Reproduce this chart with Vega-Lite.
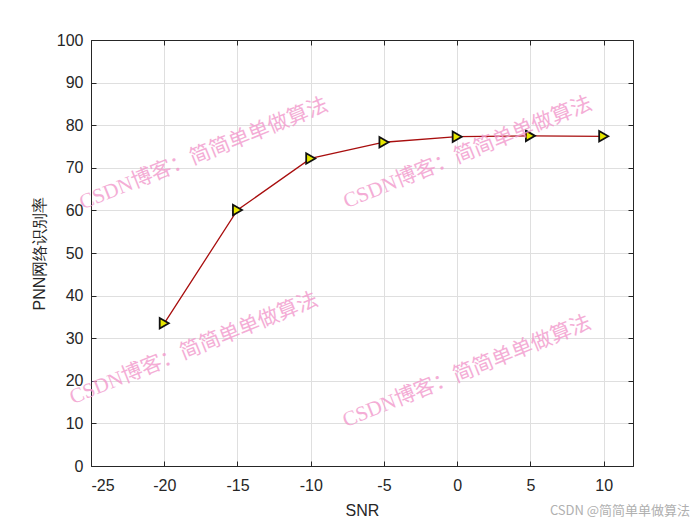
{
  "$schema": "https://vega.github.io/schema/vega-lite/v6.json",
  "autosize": {"type": "none"},
  "width": 542,
  "height": 426,
  "padding": {"left": 91, "top": 40, "right": 67, "bottom": 59},
  "background": "white",
  "config": {
    "view": {"stroke": "#262626", "strokeWidth": 1},
    "font": "Liberation Sans",
    "axis": {
      "domainColor": "#262626",
      "tickColor": "#262626",
      "labelColor": "#262626",
      "titleColor": "#262626",
      "labelFont": "Liberation Sans",
      "titleFont": "Liberation Sans",
      "labelFontSize": 16,
      "titleFontSize": 16,
      "titleFontWeight": "normal",
      "gridColor": "#dfdfdf",
      "tickSize": -5
    }
  },
  "datasets": {
    "pts": [
      {"snr": -20, "rate": 33.5},
      {"snr": -15, "rate": 60.1},
      {"snr": -10, "rate": 72.2},
      {"snr": -5, "rate": 76.0},
      {"snr": 0, "rate": 77.3},
      {"snr": 5, "rate": 77.5},
      {"snr": 10, "rate": 77.4}
    ],
    "wm": [
      {"x": -17.3, "y": 73.2, "t": "CSDN博客：简简单单做算法"},
      {"x": 0.73, "y": 73.5, "t": "CSDN博客：简简单单做算法"},
      {"x": -17.97, "y": 27.5, "t": "CSDN博客：简简单单做算法"},
      {"x": 0.67, "y": 22.1, "t": "CSDN博客：简简单单做算法"}
    ],
    "credit": [{"x": 15.9, "y": -10.6, "t": "CSDN @简简单单做算法"}]
  },
  "layer": [
    {
      "data": {"name": "pts"},
      "mark": {"type": "line", "color": "#a80e0e", "strokeWidth": 1.3},
      "encoding": {
        "x": {"field": "snr", "type": "quantitative",
              "scale": {"domain": [-25, 12], "nice": false, "zero": false},
              "axis": {"title": "SNR", "values": [-25, -20, -15, -10, -5, 0, 5, 10], "labelExpr": "'' + datum.value", "labelPadding": 16, "titlePadding": 9}},
        "y": {"field": "rate", "type": "quantitative",
              "scale": {"domain": [0, 100], "nice": false},
              "axis": {"title": "PNN网络识别率", "values": [0,10,20,30,40,50,60,70,80,90,100], "labelExpr": "'' + datum.value", "labelPadding": 13, "titlePadding": 9}}
      }
    },
    {
      "data": {"name": "pts"},
      "mark": {"type": "point", "shape": "triangle-right", "filled": true, "fill": "#e8e800", "stroke": "#111111", "strokeWidth": 1.8, "size": 110, "opacity": 1},
      "encoding": {
        "x": {"field": "snr", "type": "quantitative",
              "axis": {"orient": "top", "labels": false, "title": null, "grid": false, "values": [-25, -20, -15, -10, -5, 0, 5, 10]}},
        "y": {"field": "rate", "type": "quantitative",
              "axis": {"orient": "right", "labels": false, "title": null, "grid": false, "values": [0,10,20,30,40,50,60,70,80,90,100]}}
      }
    },
    {
      "data": {"name": "wm"},
      "mark": {"type": "text", "angle": -22, "fontSize": 21, "font": "Liberation Serif, Noto Sans CJK SC", "color": "#f299cc", "opacity": 0.8, "align": "center", "baseline": "middle"},
      "encoding": {
        "x": {"field": "x", "type": "quantitative", "axis": null},
        "y": {"field": "y", "type": "quantitative", "axis": null},
        "text": {"field": "t"}
      }
    },
    {
      "data": {"name": "credit"},
      "mark": {"type": "text", "clip": false, "fontSize": 13, "font": "Noto Sans CJK SC", "color": "#b0b0b0", "align": "right", "baseline": "middle"},
      "encoding": {
        "x": {"field": "x", "type": "quantitative", "axis": null},
        "y": {"field": "y", "type": "quantitative", "axis": null},
        "text": {"field": "t"}
      }
    }
  ],
  "resolve": {"scale": {"x": "shared", "y": "shared"}, "axis": {"x": "independent", "y": "independent"}}
}
